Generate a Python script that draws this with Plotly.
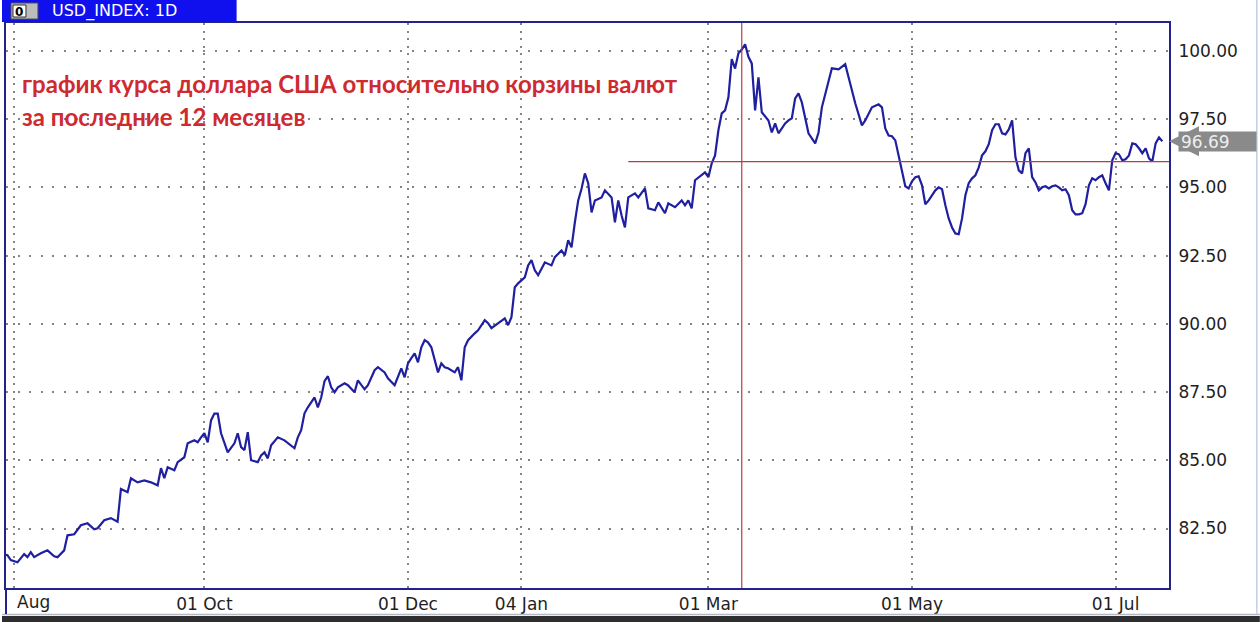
import plotly.graph_objects as go

# ---------------- data ----------------
dates = [
    "2014-08-02", "2014-08-03", "2014-08-04", "2014-08-06", "2014-08-08", "2014-08-09", "2014-08-10",
    "2014-08-11", "2014-08-13", "2014-08-15", "2014-08-17", "2014-08-18", "2014-08-20", "2014-08-21",
    "2014-08-23", "2014-08-25", "2014-08-27", "2014-08-29", "2014-08-30", "2014-09-01", "2014-09-03",
    "2014-09-04", "2014-09-05", "2014-09-06", "2014-09-08", "2014-09-09", "2014-09-11", "2014-09-13",
    "2014-09-15", "2014-09-17", "2014-09-18", "2014-09-19", "2014-09-20", "2014-09-22", "2014-09-23",
    "2014-09-25", "2014-09-26", "2014-09-28", "2014-09-29", "2014-09-30", "2014-10-01", "2014-10-02",
    "2014-10-03", "2014-10-04", "2014-10-05", "2014-10-06", "2014-10-08", "2014-10-10", "2014-10-11",
    "2014-10-12", "2014-10-13", "2014-10-14", "2014-10-15", "2014-10-17", "2014-10-18", "2014-10-19",
    "2014-10-20", "2014-10-21", "2014-10-23", "2014-10-25", "2014-10-28", "2014-10-29", "2014-10-30",
    "2014-10-31", "2014-11-01", "2014-11-03", "2014-11-04", "2014-11-05", "2014-11-06", "2014-11-07",
    "2014-11-08", "2014-11-09", "2014-11-10", "2014-11-12", "2014-11-13", "2014-11-15", "2014-11-16",
    "2014-11-18", "2014-11-19", "2014-11-21", "2014-11-22", "2014-11-24", "2014-11-25", "2014-11-27",
    "2014-11-28", "2014-11-29", "2014-11-30", "2014-12-01", "2014-12-02", "2014-12-03", "2014-12-04",
    "2014-12-05", "2014-12-06", "2014-12-07", "2014-12-08", "2014-12-09", "2014-12-10", "2014-12-11",
    "2014-12-12", "2014-12-13", "2014-12-15", "2014-12-16", "2014-12-17", "2014-12-18", "2014-12-19",
    "2014-12-21", "2014-12-22", "2014-12-24", "2014-12-25", "2014-12-26", "2014-12-28", "2014-12-30",
    "2014-12-31", "2015-01-01", "2015-01-02", "2015-01-03", "2015-01-05", "2015-01-06", "2015-01-07",
    "2015-01-08", "2015-01-09", "2015-01-11", "2015-01-13", "2015-01-14", "2015-01-16", "2015-01-17",
    "2015-01-18", "2015-01-19", "2015-01-20", "2015-01-21", "2015-01-22", "2015-01-23", "2015-01-24",
    "2015-01-25", "2015-01-26", "2015-01-28", "2015-01-29", "2015-01-31", "2015-02-01", "2015-02-02",
    "2015-02-03", "2015-02-04", "2015-02-05", "2015-02-07", "2015-02-08", "2015-02-10", "2015-02-11",
    "2015-02-13", "2015-02-14", "2015-02-16", "2015-02-17", "2015-02-19", "2015-02-21", "2015-02-22",
    "2015-02-23", "2015-02-24", "2015-02-25", "2015-02-27", "2015-02-28", "2015-03-01", "2015-03-02",
    "2015-03-03", "2015-03-04", "2015-03-05", "2015-03-06", "2015-03-07", "2015-03-08", "2015-03-09",
    "2015-03-10", "2015-03-11", "2015-03-12", "2015-03-13", "2015-03-14", "2015-03-15", "2015-03-16",
    "2015-03-17", "2015-03-19", "2015-03-20", "2015-03-21", "2015-03-22", "2015-03-24", "2015-03-25",
    "2015-03-26", "2015-03-27", "2015-03-28", "2015-03-29", "2015-03-30", "2015-03-31", "2015-04-02",
    "2015-04-03", "2015-04-04", "2015-04-06", "2015-04-07", "2015-04-09", "2015-04-11", "2015-04-12",
    "2015-04-13", "2015-04-14", "2015-04-16", "2015-04-17", "2015-04-19", "2015-04-20", "2015-04-21",
    "2015-04-22", "2015-04-23", "2015-04-24", "2015-04-25", "2015-04-26", "2015-04-27", "2015-04-28",
    "2015-04-29", "2015-04-30", "2015-05-01", "2015-05-02", "2015-05-03", "2015-05-04", "2015-05-05",
    "2015-05-06", "2015-05-07", "2015-05-08", "2015-05-09", "2015-05-10", "2015-05-11", "2015-05-12",
    "2015-05-13", "2015-05-14", "2015-05-15", "2015-05-16", "2015-05-17", "2015-05-18", "2015-05-19",
    "2015-05-20", "2015-05-21", "2015-05-22", "2015-05-23", "2015-05-24", "2015-05-25", "2015-05-26",
    "2015-05-27", "2015-05-28", "2015-05-29", "2015-05-30", "2015-05-31", "2015-06-01", "2015-06-02",
    "2015-06-03", "2015-06-04", "2015-06-05", "2015-06-06", "2015-06-07", "2015-06-08", "2015-06-09",
    "2015-06-10", "2015-06-11", "2015-06-12", "2015-06-13", "2015-06-14", "2015-06-15", "2015-06-16",
    "2015-06-17", "2015-06-18", "2015-06-19", "2015-06-20", "2015-06-21", "2015-06-22", "2015-06-23",
    "2015-06-24", "2015-06-25", "2015-06-26", "2015-06-27", "2015-06-28", "2015-06-29", "2015-06-30",
    "2015-07-01", "2015-07-02", "2015-07-03", "2015-07-04", "2015-07-05", "2015-07-06", "2015-07-07",
    "2015-07-08", "2015-07-09", "2015-07-10", "2015-07-11", "2015-07-12", "2015-07-13", "2015-07-14",
    "2015-07-15",
]

usd_index = [
    81.55, 81.52, 81.34, 81.26, 81.56, 81.45, 81.63,
    81.45, 81.59, 81.70, 81.48, 81.45, 81.70, 82.25,
    82.29, 82.62, 82.69, 82.47, 82.51, 82.80, 82.88,
    82.80, 82.75, 83.95, 83.83, 84.34, 84.19, 84.26,
    84.19, 84.08, 84.71, 84.34, 84.74, 84.63, 84.93,
    85.11, 85.62, 85.73, 85.66, 85.84, 85.99, 85.66,
    86.46, 86.71, 86.71, 85.99, 85.29, 85.62, 85.99,
    85.48, 85.37, 86.03, 85.00, 84.93, 85.18, 85.29,
    85.07, 85.55, 85.84, 85.73, 85.44, 85.84, 86.10,
    86.72, 86.94, 87.30, 86.94, 87.30, 87.90, 88.08,
    87.67, 87.49, 87.67, 87.82, 87.75, 87.49, 87.93,
    87.60, 87.75, 88.30, 88.41, 88.22, 88.00, 87.75,
    88.04, 88.37, 88.04, 88.55, 88.74, 88.92, 88.59,
    89.14, 89.40, 89.32, 89.14, 88.66, 88.22, 88.55,
    88.41, 88.37, 88.22, 88.41, 87.93, 89.14, 89.40,
    89.65, 89.76, 90.13, 90.02, 89.84, 90.02, 90.20,
    89.95, 90.24, 91.34, 91.48, 91.70, 92.14, 92.33,
    91.96, 91.78, 92.25, 92.14, 92.44, 92.69, 92.51,
    93.06, 92.80, 93.72, 94.52, 94.95, 95.51, 95.15,
    94.08, 94.52, 94.63, 94.89, 94.63, 93.72, 94.52,
    93.97, 93.53, 94.63, 94.78, 94.63, 94.96, 94.23,
    94.16, 94.45, 94.05, 94.41, 94.27, 94.52, 94.34,
    94.52, 94.23, 95.26, 95.44, 95.55, 95.37, 95.88,
    96.17, 97.09, 97.71, 97.82, 98.30, 99.70, 99.35,
    99.91, 100.05, 100.24, 99.78, 99.54, 97.82, 99.03,
    97.75, 97.45, 97.01, 97.34, 96.98, 97.34, 97.45,
    97.53, 98.26, 98.44, 98.11, 97.56, 96.98, 96.61,
    97.01, 97.93, 98.92, 99.36, 99.32, 99.51, 99.03,
    98.55, 98.08, 97.27, 97.45, 97.93, 98.00, 98.04,
    97.93, 97.16, 96.90, 96.87, 96.72, 96.17, 95.55,
    95.04, 94.96, 95.22, 95.37, 95.40, 95.07, 94.38,
    94.52, 94.71, 94.89, 95.00, 94.93, 94.34, 93.86,
    93.53, 93.31, 93.28, 93.86, 94.71, 95.15, 95.33,
    95.44, 95.73, 96.17, 96.32, 96.58, 97.09, 97.31,
    97.31, 96.98, 96.94, 97.12, 97.45, 96.10, 95.62,
    95.51, 96.25, 96.43, 95.37, 95.18, 94.89, 95.00,
    95.04, 94.96, 95.04, 95.07, 95.00, 94.89, 94.93,
    94.71, 94.16, 94.01, 94.01, 94.05, 94.38, 95.07,
    95.33, 95.26, 95.37, 95.44, 95.15, 94.89, 95.99,
    96.25, 96.21, 95.99, 96.03, 96.17, 96.61, 96.58,
    96.43, 96.25, 96.43, 96.06, 95.95, 96.61, 96.83,
    96.69,
]

tick_dates = ["2014-08-05", "2014-10-01", "2014-12-01", "2015-01-04",
              "2015-03-01", "2015-05-01", "2015-07-01"]
tick_labels = ["Aug", "01 Oct", "01 Dec", "04 Jan", "01 Mar", "01 May", "01 Jul"]

price_ticks = [82.5, 85.0, 87.5, 90.0, 92.5, 95.0, 97.5, 100.0]
price_labels = ["82.50", "85.00", "87.50", "90.00", "92.50", "95.00", "97.50", "100.00"]

last_price = 96.69
crosshair_date = "2015-03-11"
level_price = 95.94
level_start = "2015-02-05"

x_range = ["2014-08-02 13:40", "2015-07-17 00:00"]
y_range = [80.32, 101.02]

title_lines = ["график курса доллара США относительно корзины валют",
               "за последние 12 месяцев"]
header_text = "USD_INDEX: 1D"

# ---------------- layout geometry (pixels) ----------------
W, H = 1260, 622
PL, PR, PT, PB = 4, 1169, 23, 588


def px(X):
    return (X - PL) / (PR - PL)


def py(Y):
    return (PB - Y) / (PB - PT)


LINE_BLUE = "#1f1fa0"
FRAME = "#23238c"
GRID = "#858585"
RED = "#b83a44"
TXT = "#1e1e1e"
TAG_GRAY = "#8a8a8a"
AX_FONT = dict(family="DejaVu Sans", size=17, color=TXT)
TITLE_FONT = dict(family="Lato", size=24, color="#cf2a30")

fig = go.Figure()
fig.add_trace(go.Scatter(
    x=dates, y=usd_index, mode="lines",
    line=dict(color=LINE_BLUE, width=2.2),
    hoverinfo="skip", showlegend=False,
))

shapes = []
# red level & crosshair lines
shapes.append(dict(type="line", xref="x", yref="y", x0=level_start, x1=x_range[1],
                   y0=level_price, y1=level_price, line=dict(color=RED, width=1.2), layer="above"))
shapes.append(dict(type="line", xref="x", yref="paper", x0=crosshair_date, x1=crosshair_date,
                   y0=0, y1=1, line=dict(color=RED, width=1.2), layer="above"))
# header bar
shapes.append(dict(type="rect", xref="paper", yref="paper", x0=px(0), x1=px(235), y0=py(22), y1=py(0),
                   fillcolor="#1010ee", line=dict(width=0), layer="above"))
shapes.append(dict(type="rect", xref="paper", yref="paper", x0=px(9), x1=px(36), y0=py(19), y1=py(3),
                   fillcolor="#bcbcbc", line=dict(color="#505050", width=1), layer="above"))
shapes.append(dict(type="rect", xref="paper", yref="paper", x0=px(11), x1=px(24), y0=py(17), y1=py(5),
                   fillcolor="#ffffff", line=dict(color="#303030", width=1), layer="above"))
# bottom window strip
shapes.append(dict(type="rect", xref="paper", yref="paper", x0=px(0), x1=px(W), y0=py(H), y1=py(616),
                   fillcolor="#2e2e2e", line=dict(width=0), layer="above"))
shapes.append(dict(type="line", xref="paper", yref="paper", x0=px(0), x1=px(W), y0=py(614.5), y1=py(614.5),
                   line=dict(color="#b4b8c4", width=1.5), layer="above"))
shapes.append(dict(type="line", xref="paper", yref="paper", x0=px(PL), x1=px(PL), y0=py(614), y1=py(PB),
                   line=dict(color=FRAME, width=2), layer="above"))
shapes.append(dict(type="line", xref="paper", yref="paper", x0=px(1257), x1=px(1257), y0=py(614), y1=py(0),
                   line=dict(color="#c4cde6", width=1.5), layer="above"))

annotations = []
annotations.append(dict(xref="paper", yref="paper", x=px(48), y=py(11), xanchor="left", yanchor="middle",
                        text=header_text, showarrow=False,
                        font=dict(family="DejaVu Sans", size=16, color="#ffffff")))
annotations.append(dict(xref="paper", yref="paper", x=px(17.5), y=py(11.5), xanchor="center", yanchor="middle",
                        text="<b>0</b>", showarrow=False,
                        font=dict(family="DejaVu Sans", size=12, color="#000000")))
annotations.append(dict(xref="paper", yref="paper", x=px(18), y=py(83), xanchor="left", yanchor="middle",
                        text="<b>" + title_lines[0] + "</b>", showarrow=False, font=TITLE_FONT))
annotations.append(dict(xref="paper", yref="paper", x=px(18), y=py(116), xanchor="left", yanchor="middle",
                        text="<b>" + title_lines[1] + "</b>", showarrow=False, font=TITLE_FONT))
# first x label, left aligned
annotations.append(dict(xref="paper", yref="paper", x=px(13), y=py(602), xanchor="left", yanchor="middle",
                        text=tick_labels[0], showarrow=False, font=AX_FONT))
# last price tag: pointer + box
annotations.append(dict(xref="paper", yref="y", x=1.0, y=last_price, text="",
                        showarrow=True, ax=12, ay=0, arrowhead=2, arrowsize=1.0, arrowwidth=6,
                        arrowcolor=TAG_GRAY, standoff=0))
annotations.append(dict(xref="paper", yref="y", x=px(1178), y=last_price, xanchor="left", yanchor="middle",
                        text=str(last_price), showarrow=False, align="left",
                        bgcolor=TAG_GRAY, width=73, height=15, borderpad=2,
                        font=dict(family="DejaVu Sans", size=17, color="#eeeeee")))

fig.update_layout(
    width=W, height=H,
    margin=dict(l=PL, r=W - PR, t=PT, b=H - PB, pad=0),
    paper_bgcolor="#ffffff", plot_bgcolor="#ffffff",
    showlegend=False,
    shapes=shapes, annotations=annotations,
    xaxis=dict(
        type="date", range=x_range,
        tickmode="array", tickvals=tick_dates, ticktext=[""] + tick_labels[1:],
        showgrid=True, gridcolor=GRID, gridwidth=2, griddash="2px,5.5px",
        showline=True, linecolor=FRAME, linewidth=2, mirror=True,
        ticks="", tickfont=AX_FONT, zeroline=False, fixedrange=True,
    ),
    yaxis=dict(
        side="right", range=y_range,
        tickmode="array", tickvals=price_ticks, ticktext=price_labels,
        showgrid=True, gridcolor=GRID, gridwidth=2, griddash="2px,9.6px",
        showline=True, linecolor=FRAME, linewidth=2, mirror=True,
        ticks="", tickfont=AX_FONT, zeroline=False, ticklabelstandoff=4, fixedrange=True,
    ),
)

fig.write_html("out.html", config={"displayModeBar": False},
               post_script="document.body.style.margin='0';document.body.style.overflow='hidden';")
